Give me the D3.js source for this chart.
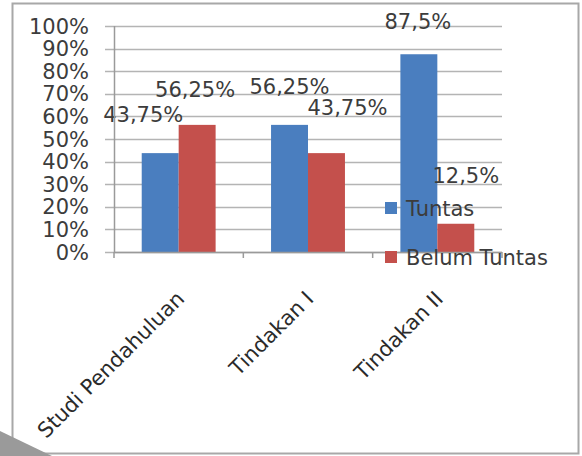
<!DOCTYPE html>
<html>
<head>
<meta charset="utf-8">
<script src="https://cdn.jsdelivr.net/npm/d3@7"></script>
<style>
  body { margin: 0; background: #fff; }
  svg { display: block; font-family: "DejaVu Sans", sans-serif; }
</style>
</head>
<body>
<script>
// data
var categories = ['Studi Pendahuluan', 'Tindakan I', 'Tindakan II'];
var seriesNames = ['Tuntas', 'Belum Tuntas'];
var tuntas = [43.75, 56.25, 87.5];
var belumTuntas = [56.25, 43.75, 12.5];
var yTicks = [0, 10, 20, 30, 40, 50, 60, 70, 80, 90, 100];

var colors = ['#4a7ebf', '#c4504c'];

var width = 582;
var height = 456;
var margin = {left: 114, right: 80, top: 26, bottom: 204}; // plot 114..502, 26..252

// excel put the value labels in slightly odd spots, nudge them [dx, dy]
var labelNudge = [
  [[-17, -39], [-2, -35]],
  [[0, -38], [21, -46]],
  [[-1, -33], [10, -48]]
];

var svg = d3.select('body')
  .append('svg')
  .attr('width', width)
  .attr('height', height);

// frame round the chart
svg.append('rect')
  .attr('x', 12.5)
  .attr('y', 3.5)
  .attr('width', 566)
  .attr('height', 450)
  .attr('fill', 'none')
  .attr('stroke', '#a8a8a8')
  .attr('stroke-width', 2);

// page shadow bottom-left
svg.append('polygon')
  .attr('points', '0,431 52,456 0,456')
  .attr('fill', '#9a9a9a');

var x0 = d3.scaleBand()
  .domain(categories)
  .range([margin.left, width - margin.right]);

var x1 = d3.scaleBand()
  .domain(seriesNames)
  .range([0, x0.bandwidth()])
  .paddingInner(0)
  .paddingOuter(0.75);

var y = d3.scaleLinear()
  .domain([0, 100])
  .range([height - margin.bottom, margin.top]);

// gridlines
svg.append('g')
  .selectAll('line')
  .data(yTicks)
  .enter()
  .append('line')
  .attr('x1', margin.left - 9)
  .attr('x2', width - margin.right)
  .attr('y1', function(d) { return Math.round(y(d)) + 0.5; })
  .attr('y2', function(d) { return Math.round(y(d)) + 0.5; })
  .attr('stroke', '#b4b4b4')
  .attr('stroke-width', 1.3);

// y tick labels
svg.append('g')
  .selectAll('text')
  .data(yTicks)
  .enter()
  .append('text')
  .attr('x', 89)
  .attr('y', function(d) { return y(d); })
  .attr('dy', '0.36em')
  .attr('text-anchor', 'end')
  .attr('font-size', 21)
  .attr('fill', '#3c3c3c')
  .text(function(d) { return d + '%'; });

// bars
var rows = categories.map(function(c, i) {
  return [
    {cat: c, s: seriesNames[0], v: tuntas[i], i: i, j: 0},
    {cat: c, s: seriesNames[1], v: belumTuntas[i], i: i, j: 1}
  ];
});

var groups = svg.append('g')
  .selectAll('g')
  .data(rows)
  .enter()
  .append('g')
  .attr('transform', function(d) { return 'translate(' + x0(d[0].cat) + ',0)'; });

groups.selectAll('rect')
  .data(function(d) { return d; })
  .enter()
  .append('rect')
  .attr('x', function(d) { return x1(d.s); })
  .attr('width', x1.bandwidth())
  .attr('y', function(d) { return y(d.v); })
  .attr('height', function(d) { return y(0) - y(d.v); })
  .attr('fill', function(d) { return colors[d.j]; });

// axes lines
svg.append('line')
  .attr('x1', margin.left + 0.5).attr('x2', margin.left + 0.5)
  .attr('y1', y(100)).attr('y2', y(0))
  .attr('stroke', '#9a9a9a').attr('stroke-width', 1.5);

svg.append('line')
  .attr('x1', margin.left).attr('x2', width - margin.right)
  .attr('y1', y(0) + 0.5).attr('y2', y(0) + 0.5)
  .attr('stroke', '#9a9a9a').attr('stroke-width', 1.5);

var catTicks = categories.map(function(c) { return x0(c); }).concat([width - margin.right]);
svg.append('g')
  .selectAll('line')
  .data(catTicks)
  .enter()
  .append('line')
  .attr('x1', function(d) { return d; })
  .attr('x2', function(d) { return d; })
  .attr('y1', y(0))
  .attr('y2', y(0) + 6)
  .attr('stroke', '#9a9a9a')
  .attr('stroke-width', 1.5);

// value labels
groups.selectAll('text.val')
  .data(function(d) { return d; })
  .enter()
  .append('text')
  .attr('class', 'val')
  .attr('x', function(d) { return x1(d.s) + x1.bandwidth() / 2 + labelNudge[d.i][d.j][0]; })
  .attr('y', function(d) { return y(d.v) + labelNudge[d.i][d.j][1]; })
  .attr('dy', '0.36em')
  .attr('text-anchor', 'middle')
  .attr('font-size', 21)
  .attr('fill', '#3c3c3c')
  .text(function(d) { return String(d.v).replace('.', ',') + '%'; });

// category labels, rotated
svg.append('g')
  .selectAll('text')
  .data(categories)
  .enter()
  .append('text')
  .attr('transform', function(d) {
    return 'translate(' + (x0(d) + x0.bandwidth() / 2 + 7) + ',' + 300 + ') rotate(-45)';
  })
  .attr('text-anchor', 'end')
  .attr('font-size', 21)
  .attr('fill', '#2a2a2a')
  .text(function(d) { return d; });

// legend
var legend = svg.append('g')
  .selectAll('g')
  .data(seriesNames)
  .enter()
  .append('g')
  .attr('transform', function(d, i) { return 'translate(385,' + (208 + i * 49) + ')'; });

legend.append('rect')
  .attr('x', 0)
  .attr('y', -6)
  .attr('width', 12)
  .attr('height', 12)
  .attr('fill', function(d, i) { return colors[i]; });

legend.append('text')
  .attr('x', 21)
  .attr('y', 0)
  .attr('dy', '0.36em')
  .attr('font-size', 21)
  .attr('fill', '#3c3c3c')
  .text(function(d) { return d; });
</script>
</body>
</html>
